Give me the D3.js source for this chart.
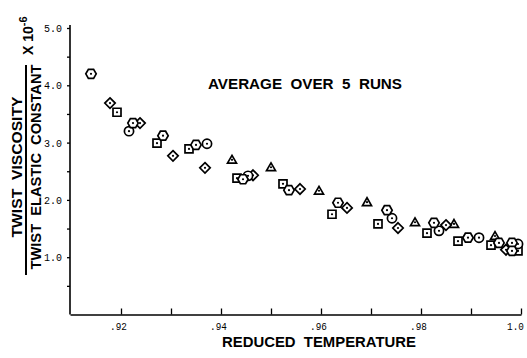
<!DOCTYPE html>
<html>
<head>
<meta charset="utf-8">
<script src="https://cdn.jsdelivr.net/npm/d3@7"></script>
<style>
  html, body { margin: 0; padding: 0; background: #fff; }
  svg { display: block; }
</style>
</head>
<body>
<svg id="chart" width="527" height="358"></svg>
<script>
// Reduced temperature (x) and twist viscosity / twist elastic constant (y, x10^-6), one array per run
const hexRun = [
  [0.9140, 4.20], [0.9224, 3.34], [0.9284, 3.12], [0.9350, 2.96], [0.9444, 2.36],
  [0.9536, 2.17], [0.9634, 1.95], [0.9732, 1.82], [0.9826, 1.60], [0.9894, 1.34],
  [0.9956, 1.25], [0.9982, 1.25], [0.9982, 1.11]
];
const circleRun = [
  [0.9216, 3.20], [0.9372, 2.98], [0.9454, 2.42], [0.9742, 1.68], [0.9836, 1.46],
  [0.9916, 1.34], [0.9994, 1.23]
];
const diamondRun = [
  [0.9178, 3.69], [0.9238, 3.34], [0.9304, 2.77], [0.9368, 2.56], [0.9464, 2.43],
  [0.9558, 2.19], [0.9652, 1.86], [0.9754, 1.51], [0.9850, 1.56], [0.9970, 1.13]
];
const squareRun = [
  [0.9192, 3.53], [0.9272, 2.99], [0.9336, 2.89], [0.9432, 2.38], [0.9524, 2.28],
  [0.9622, 1.75], [0.9714, 1.58], [0.9812, 1.42], [0.9874, 1.28], [0.9940, 1.21],
  [0.9994, 1.11]
];
const triangleRun = [
  [0.9422, 2.70], [0.9500, 2.57], [0.9596, 2.16], [0.9692, 1.96], [0.9788, 1.61],
  [0.9866, 1.58], [0.9948, 1.37]
];

const xTickValues = [0.92, 0.93, 0.94, 0.95, 0.96, 0.97, 0.98, 0.99, 1.0];
const xTickLabels = {0.92: ".92", 0.94: ".94", 0.96: ".96", 0.98: ".98", 1.0: "1.0"};
const yTickValues = [0.5, 1.0, 1.5, 2.0, 2.5, 3.0, 3.5, 4.0, 4.5, 5.0];
const yTickLabels = {1: "1.0", 2: "2.0", 3: "3.0", 4: "4.0", 5: "5.0"};

const svg = d3.select("#chart");
const x = d3.scaleLinear().domain([0.9098, 1.0]).range([70, 521]);
const y = d3.scaleLinear().domain([0, 5]).range([314.5, 28]);

// X axis
const xAxis = d3.axisBottom(x)
  .tickValues(xTickValues)
  .tickSizeInner(-6).tickSizeOuter(0)
  .tickFormat(d => xTickLabels[+d.toFixed(2)] || "");
const gx = svg.append("g").attr("transform", `translate(0,${y(0)})`).call(xAxis);
gx.select(".domain").attr("stroke", "#000").attr("stroke-width", 1.6);
gx.selectAll(".tick line").attr("stroke", "#000").attr("stroke-width", 1.3);
gx.selectAll(".tick text")
  .attr("font-family", "Liberation Mono, DejaVu Sans Mono, monospace")
  .attr("font-size", 11).attr("fill", "#000").attr("dy", "1.0em").attr("y", 4)
  .attr("dx", d => (d >= 1 ? -6 : -3))
  .each(function() {
    const t = d3.select(this).text();
    if (t) d3.select(this).attr("textLength", t.length * 5.6).attr("lengthAdjust", "spacingAndGlyphs");
  });

// Y axis
const yAxis = d3.axisLeft(y)
  .tickValues(yTickValues)
  .tickSizeInner(3).tickSizeOuter(0)
  .tickPadding(5)
  .tickFormat(d => yTickLabels[d] || "");
const gy = svg.append("g").attr("transform", `translate(${x.range()[0]},0)`).call(yAxis);
gy.select(".domain").attr("stroke", "#000").attr("stroke-width", 1.6)
  .attr("d", `M0,${y(0)}V${y(5) - 3}`);
gy.selectAll(".tick line").attr("stroke", "#000").attr("stroke-width", 1.3);
gy.selectAll(".tick text")
  .attr("font-family", "Liberation Mono, DejaVu Sans Mono, monospace")
  .attr("font-size", 11).attr("fill", "#000")
  .each(function() {
    const t = d3.select(this).text();
    if (t) d3.select(this).attr("textLength", t.length * 6).attr("lengthAdjust", "spacingAndGlyphs");
  });

// Axis titles
const titleFont = "Liberation Sans, Arial, sans-serif";
svg.append("text")
  .attr("x", 319).attr("y", 347)
  .attr("text-anchor", "middle")
  .attr("font-family", titleFont).attr("font-weight", "bold").attr("font-size", 14)
  .attr("textLength", 194).attr("lengthAdjust", "spacingAndGlyphs")
  .attr("xml:space", "preserve")
  .text("REDUCED  TEMPERATURE");

const yt = svg.append("g");
yt.append("text")
  .attr("transform", "translate(22,167) rotate(-90)")
  .attr("text-anchor", "middle")
  .attr("font-family", titleFont).attr("font-weight", "bold").attr("font-size", 15)
  .attr("textLength", 141).attr("lengthAdjust", "spacingAndGlyphs")
  .attr("xml:space", "preserve")
  .text("TWIST  VISCOSITY");
yt.append("line")
  .attr("x1", 26).attr("x2", 26).attr("y1", 65).attr("y2", 275)
  .attr("stroke", "#000").attr("stroke-width", 2);
yt.append("text")
  .attr("transform", "translate(41,167) rotate(-90)")
  .attr("text-anchor", "middle")
  .attr("font-family", titleFont).attr("font-weight", "bold").attr("font-size", 15)
  .attr("textLength", 205).attr("lengthAdjust", "spacingAndGlyphs")
  .attr("xml:space", "preserve")
  .text("TWIST  ELASTIC  CONSTANT");
const mult = yt.append("text")
  .attr("transform", "translate(33,55) rotate(-90)")
  .attr("font-family", titleFont).attr("font-weight", "bold").attr("font-size", 14);
mult.append("tspan").text("X 10");
mult.append("tspan").attr("dy", -6).attr("font-size", 11).text("-6");

// Annotation
svg.append("text")
  .attr("x", 305).attr("y", 89)
  .attr("text-anchor", "middle")
  .attr("font-family", titleFont).attr("font-weight", "bold").attr("font-size", 15)
  .attr("textLength", 194).attr("lengthAdjust", "spacingAndGlyphs")
  .attr("xml:space", "preserve")
  .text("AVERAGE  OVER  5  RUNS");

// Marker shapes (relative to centre)
function polyPath(n, r, rot) {
  const pts = d3.range(n).map(i => {
    const a = rot + i * 2 * Math.PI / n;
    return [r * Math.cos(a), r * Math.sin(a)];
  });
  return "M" + pts.map(p => p[0].toFixed(2) + "," + p[1].toFixed(2)).join("L") + "Z";
}
const shapes = {
  hex: polyPath(6, 5.2, 0),
  circle: "M4.6,0A4.6,4.6 0 1,1 -4.6,0A4.6,4.6 0 1,1 4.6,0Z",
  diamond: polyPath(4, 5.2, -Math.PI / 2),
  square: "M-4,-4H4V4H-4Z",
  triangle: polyPath(3, 5.2, -Math.PI / 2)
};

const runs = [
  {data: squareRun, shape: "square"},
  {data: triangleRun, shape: "triangle"},
  {data: diamondRun, shape: "diamond"},
  {data: circleRun, shape: "circle"},
  {data: hexRun, shape: "hex"}
];

const marks = svg.append("g");
runs.forEach(run => {
  const g = marks.append("g");
  const pts = g.selectAll("g").data(run.data).join("g")
    .attr("transform", d => `translate(${x(d[0])},${y(d[1])})`);
  pts.append("path")
    .attr("d", shapes[run.shape])
    .attr("transform", run.shape === "triangle" ? "translate(0,0.8)" : null)
    .attr("fill", "#fff").attr("stroke", "#000").attr("stroke-width", 1.7);
  pts.append("circle").attr("r", 1.1).attr("fill", "#000");
});
</script>
</body>
</html>
